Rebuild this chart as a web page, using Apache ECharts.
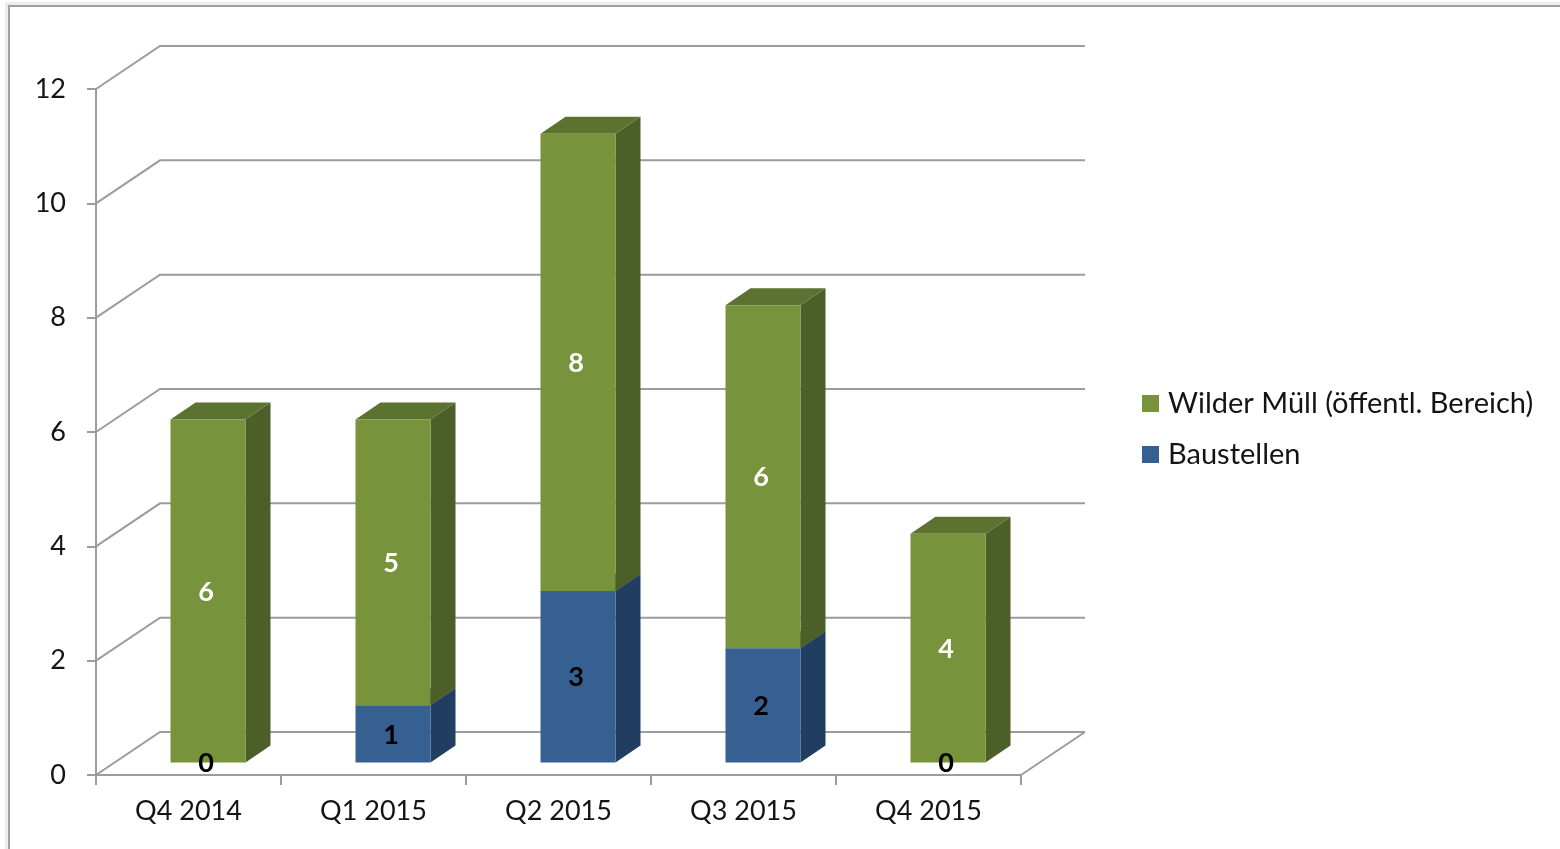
<!DOCTYPE html>
<html>
<head>
<meta charset="utf-8">
<style>
  html, body { margin: 0; padding: 0; background: #fff; }
  #chart { width: 1560px; height: 849px; }
</style>
<script src="https://cdn.jsdelivr.net/npm/echarts@6/dist/echarts.min.js"></script>
</head>
<body>
<div id="chart"></div>
<script>
const categories = ["Q4 2014", "Q1 2015", "Q2 2015", "Q3 2015", "Q4 2015"];
const baustellen = [0, 1, 3, 2, 0];
const wilderMuell = [6, 5, 8, 6, 4];
const wallTicks = [0, 2, 4, 6, 8, 10, 12];

const fontFamily = "Lato, sans-serif";
const gridColor = "#9c9c9c";
const textColor = "#141414";

// fake 3d: offsets in pixels
const wallDx = 64;
const wallDy = -43;
const barDx = 19.5;
const barDy = -12.5;
const barWidth = 75;
const depthDx = 25;
const depthDy = -17;

function stackData(values, below) {
  return values.map((value, i) => [i, below ? below[i] : 0, (below ? below[i] : 0) + value, value]);
}

function barRenderer(colors, labelColor) {
  return (params, api) => {
    const cat = api.value(0);
    const value = api.value(3);
    const low = api.coord([cat, api.value(1)]);
    const high = api.coord([cat, api.value(2)]);
    const left = low[0] + barDx - barWidth / 2;
    const right = left + barWidth;
    const bottom = low[1] + barDy;
    const top = high[1] + barDy;
    const children = [];
    if (value > 0) {
      children.push({
        type: "polygon",
        z2: 1,
        shape: { points: [[right, bottom], [right + depthDx, bottom + depthDy], [right + depthDx, top + depthDy], [right, top]] },
        style: { fill: colors.side },
      });
      children.push({
        type: "polygon",
        z2: 1,
        shape: { points: [[left, top], [right, top], [right + depthDx, top + depthDy], [left + depthDx, top + depthDy]] },
        style: { fill: colors.top },
      });
      children.push({
        type: "rect",
        z2: 2,
        shape: { x: left, y: top, width: barWidth, height: bottom - top },
        style: { fill: colors.front },
      });
    }
    children.push({
      type: "text",
      z2: 10,
      style: {
        x: (left + right) / 2 - 2,
        y: (top + bottom) / 2 + 1,
        text: String(value),
        align: "center",
        verticalAlign: "middle",
        fill: labelColor,
        fontFamily: fontFamily,
        fontSize: 27,
        fontWeight: "bold",
      },
    });
    return { type: "group", children: children };
  };
}

function wallRenderer(params, api) {
  const sys = params.coordSys;
  const tick = api.value(0);
  const y = api.coord([0, tick])[1];
  const lineStyle = { fill: "none", stroke: gridColor, lineWidth: 2 };
  const children = [{
    type: "polyline",
    shape: { points: [[sys.x, y], [sys.x + wallDx, y + wallDy], [sys.x + sys.width + wallDx, y + wallDy]] },
    style: lineStyle,
  }];
  if (tick === 0) {
    children.push({
      type: "line",
      shape: { x1: sys.x + sys.width, y1: y, x2: sys.x + sys.width + wallDx, y2: y + wallDy },
      style: lineStyle,
    });
  }
  return { type: "group", children: children };
}

const chart = echarts.init(document.getElementById("chart"));
chart.setOption({
  animation: false,
  backgroundColor: "#fff",
  graphic: [
    { type: "rect", silent: true, shape: { x: 6.5, y: 3.5, width: 1600, height: 900 }, style: { fill: "none", stroke: "#e8eef4", lineWidth: 3 } },
    { type: "rect", silent: true, shape: { x: 9, y: 6, width: 1600, height: 900 }, style: { fill: "none", stroke: "#a0a0a0", lineWidth: 2 } },
  ],
  grid: { left: 96, top: 89, width: 925, height: 686, containLabel: false },
  legend: {
    orient: "vertical",
    left: 1137,
    top: 384,
    itemGap: 22,
    itemWidth: 17,
    itemHeight: 17,
    icon: "rect",
    data: ["Wilder Müll (öffentl. Bereich)", "Baustellen"],
    textStyle: { color: textColor, fontFamily: fontFamily, fontSize: 29, padding: [0, 0, 0, 4] },
  },
  xAxis: {
    type: "category",
    data: categories,
    axisLine: { lineStyle: { color: gridColor, width: 2 } },
    axisTick: { show: true, length: 10, lineStyle: { color: gridColor, width: 2 } },
    axisLabel: { color: textColor, fontFamily: fontFamily, fontSize: 27, margin: 23 },
    splitLine: { show: false },
  },
  yAxis: {
    type: "value",
    min: 0,
    max: 12,
    interval: 2,
    axisLine: { show: true, lineStyle: { color: gridColor, width: 2 } },
    axisTick: { show: true, length: 9, lineStyle: { color: gridColor, width: 2 } },
    axisLabel: { color: textColor, fontFamily: fontFamily, fontSize: 27, margin: 30, padding: [5, 0, 0, 0] },
    splitLine: { show: false },
  },
  series: [
    {
      type: "custom",
      name: "walls",
      silent: true,
      z: 1,
      data: wallTicks.map((tick) => [tick]),
      encode: { y: 0 },
      renderItem: wallRenderer,
    },
    {
      type: "custom",
      name: "Baustellen",
      z: 3,
      itemStyle: { color: "#376092" },
      data: stackData(baustellen),
      encode: { x: 0, y: 2 },
      renderItem: barRenderer({ front: "#376092", side: "#213e60", top: "#2b4d75" }, "#000"),
    },
    {
      type: "custom",
      name: "Wilder Müll (öffentl. Bereich)",
      z: 3,
      itemStyle: { color: "#77933c" },
      data: stackData(wilderMuell, baustellen),
      encode: { x: 0, y: 2 },
      renderItem: barRenderer({ front: "#77933c", side: "#4d5f28", top: "#5b7230" }, "#fff"),
    },
  ],
});
</script>
</body>
</html>
